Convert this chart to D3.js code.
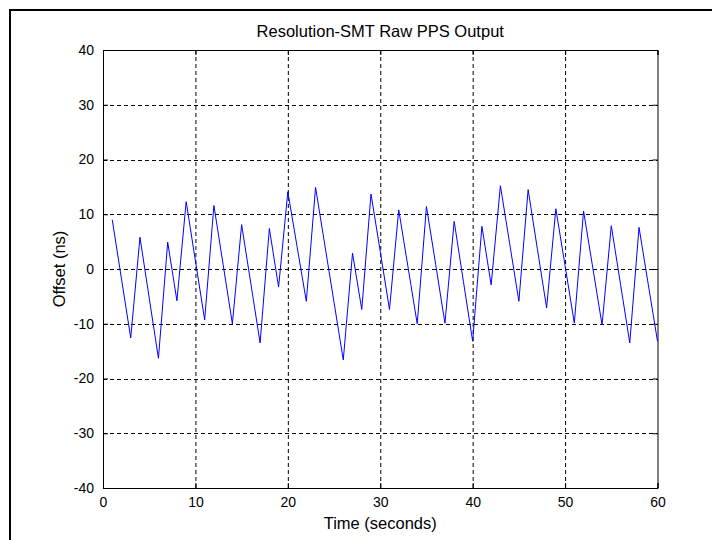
<html>
<head>
<meta charset="utf-8">
<title>Resolution-SMT Raw PPS Output</title>
<script src="https://d3js.org/d3.v7.min.js"></script>
<style>
  body { margin: 0; background: #fff; }
  text { font-family: "Liberation Sans", Arial, sans-serif; fill: #000; }
</style>
</head>
<body>
<script>
// data: one sample per second
var seconds = d3.range(1, 61);
var offsetNs = [
   9.0, -1.8, -12.6,   5.8,  -5.3, -16.3,   4.9,  -5.8,  12.3,   1.5,
  -9.3, 11.6,   0.8, -10.0,   8.1,  -2.7, -13.5,   7.4,  -3.3,  14.1,
   4.1, -5.9,  14.9,   4.4,  -6.1, -16.6,   2.9,  -7.4,  13.7,   3.2,
  -7.4, 10.8,   0.4, -10.0,  11.4,   0.8,  -9.9,   8.7,  -2.3, -13.2,
   7.8, -2.9,  15.2,   4.7,  -5.9,  14.5,   3.7,  -7.1,  11.0,   0.6,
  -9.9, 10.6,   0.2, -10.2,   7.9,  -2.8, -13.5,   7.6,  -2.8, -13.2
];
var xTicks = [0, 10, 20, 30, 40, 50, 60];
var yTicks = [-40, -30, -20, -10, 0, 10, 20, 30, 40];

var svg = d3.select("body").append("svg").attr("width", 712).attr("height", 540);
let margin = {"top": 50, "left": 103, "right": 54.5, "bottom": 52};
let chartWidth = 712 - margin.left - margin.right;
let chartHeight = 540 - margin.top - margin.bottom;

// outer window frame
svg.append("path").attr("d", "M10,540 V10 H712")
   .attr("fill", "none").attr("stroke", "#000").attr("stroke-width", 2);

let xScale = d3.scaleLinear().domain([0, 60]).range([0, chartWidth]);
let yScale = d3.scaleLinear().domain([-40, 40]).range([chartHeight, 0]);

let chart = svg.append("g").attr("transform", "translate(" + margin.left + "," + margin.top + ")");

// dashed grid
chart.append("g").selectAll("line").data(xTicks.slice(1, -1)).join("line")
   .attr("x1", d => xScale(d) + 0.5).attr("x2", d => xScale(d) + 0.5)
   .attr("y1", 0).attr("y2", chartHeight)
   .attr("stroke", "#000").attr("stroke-dasharray", "4,3");
chart.append("g").selectAll("line").data(yTicks.slice(1, -1)).join("line")
   .attr("y1", d => Math.round(yScale(d)) + 0.5).attr("y2", d => Math.round(yScale(d)) + 0.5)
   .attr("x1", 0).attr("x2", chartWidth)
   .attr("stroke", "#000").attr("stroke-dasharray", "4,3");

// axes with inward ticks, plain hyphen for negatives like the original
let fmt = d => String(d);
let bottomAxis = d3.axisBottom(xScale).tickValues(xTicks).tickSize(-5).tickPadding(9).tickFormat(fmt);
let topAxis = d3.axisTop(xScale).tickValues(xTicks).tickSize(-5).tickFormat("");
let leftAxis = d3.axisLeft(yScale).tickValues(yTicks).tickSize(-5).tickPadding(9).tickFormat(fmt);
let rightAxis = d3.axisRight(yScale).tickValues(yTicks).tickSize(-5).tickFormat("");

chart.append("g").attr("transform", "translate(0," + chartHeight + ")").call(bottomAxis);
chart.append("g").call(topAxis);
chart.append("g").call(leftAxis);
chart.append("g").attr("transform", "translate(" + chartWidth + ",0)").call(rightAxis);
chart.selectAll(".domain").attr("stroke", "#000");
chart.selectAll(".tick line").attr("stroke", "#000");
chart.selectAll(".tick text").attr("font-size", 14).attr("font-family", "Liberation Sans, Arial, sans-serif");

// data line
let lineGen = d3.line()
   .x((d, i) => xScale(seconds[i]))
   .y(d => yScale(d));
chart.append("path")
   .datum(offsetNs)
   .attr("fill", "none")
   .attr("stroke", "#0000ff")
   .attr("stroke-width", 1)
   .attr("d", lineGen);

// labels
svg.append("text").attr("x", margin.left + chartWidth / 2).attr("y", 37)
   .attr("text-anchor", "middle").attr("font-size", 16.5).text("Resolution-SMT Raw PPS Output");
svg.append("text").attr("x", margin.left + chartWidth / 2).attr("y", 529)
   .attr("text-anchor", "middle").attr("font-size", 16.5).text("Time (seconds)");
svg.append("text").attr("transform", "translate(65," + (margin.top + chartHeight / 2) + ") rotate(-90)")
   .attr("text-anchor", "middle").attr("font-size", 16.5).text("Offset (ns)");
</script>
</body>
</html>
